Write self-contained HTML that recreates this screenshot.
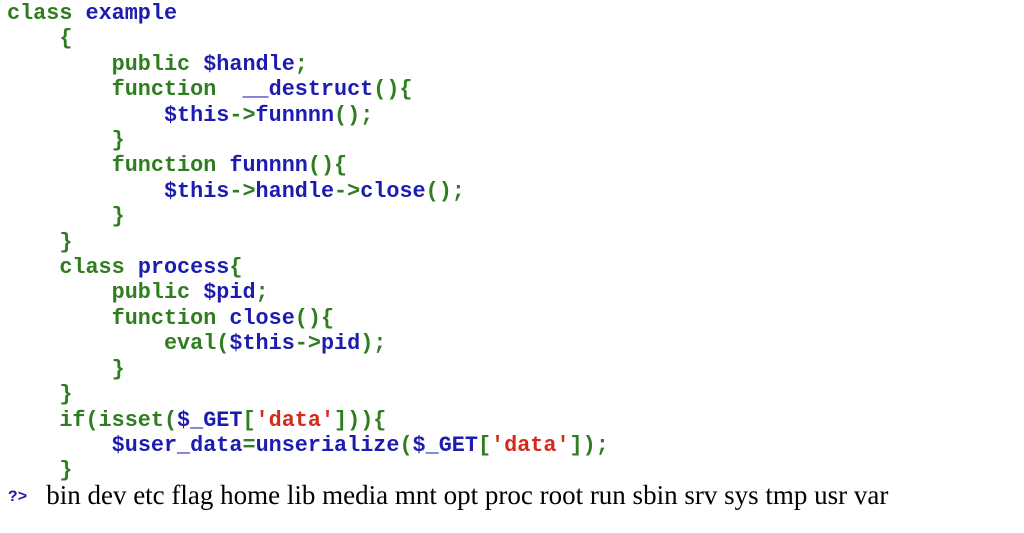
<!DOCTYPE html>
<html><head><meta charset="utf-8"><style>
body{margin:0;background:#fff;width:1024px;height:533px;overflow:hidden;position:relative}
pre{position:absolute;left:7px;top:1px;margin:0;font-family:"Liberation Mono",monospace;font-size:21.8px;line-height:25.4px;font-weight:bold;color:#2e7d1e}
.b{color:#1c1cb0}.r{color:#d42a1a}
.last{position:absolute;left:8px;top:480px;font-family:"Liberation Serif",serif;font-size:27px;color:#000;white-space:nowrap}
.last .q{font-family:"Liberation Mono",monospace;font-size:16px;font-weight:bold;color:#1c1cb0;margin-right:19px;position:relative;top:-3px}
</style></head><body>
<pre>class <span class="b">example</span>
    {
        public <span class="b">$handle</span>;
        function  <span class="b">__destruct</span>(){
            <span class="b">$this</span>-&gt;<span class="b">funnnn</span>();
        }
        function <span class="b">funnnn</span>(){
            <span class="b">$this</span>-&gt;<span class="b">handle</span>-&gt;<span class="b">close</span>();
        }
    }
    class <span class="b">process</span>{
        public <span class="b">$pid</span>;
        function <span class="b">close</span>(){
            eval(<span class="b">$this</span>-&gt;<span class="b">pid</span>);
        }
    }
    if(isset(<span class="b">$_GET</span>[<span class="r">'data'</span>])){
        <span class="b">$user_data</span>=<span class="b">unserialize</span>(<span class="b">$_GET</span>[<span class="r">'data'</span>]);
    }</pre>
<div class="last"><span class="q">?&gt;</span>bin dev etc flag home lib media mnt opt proc root run sbin srv sys tmp usr var</div>
</body></html>
